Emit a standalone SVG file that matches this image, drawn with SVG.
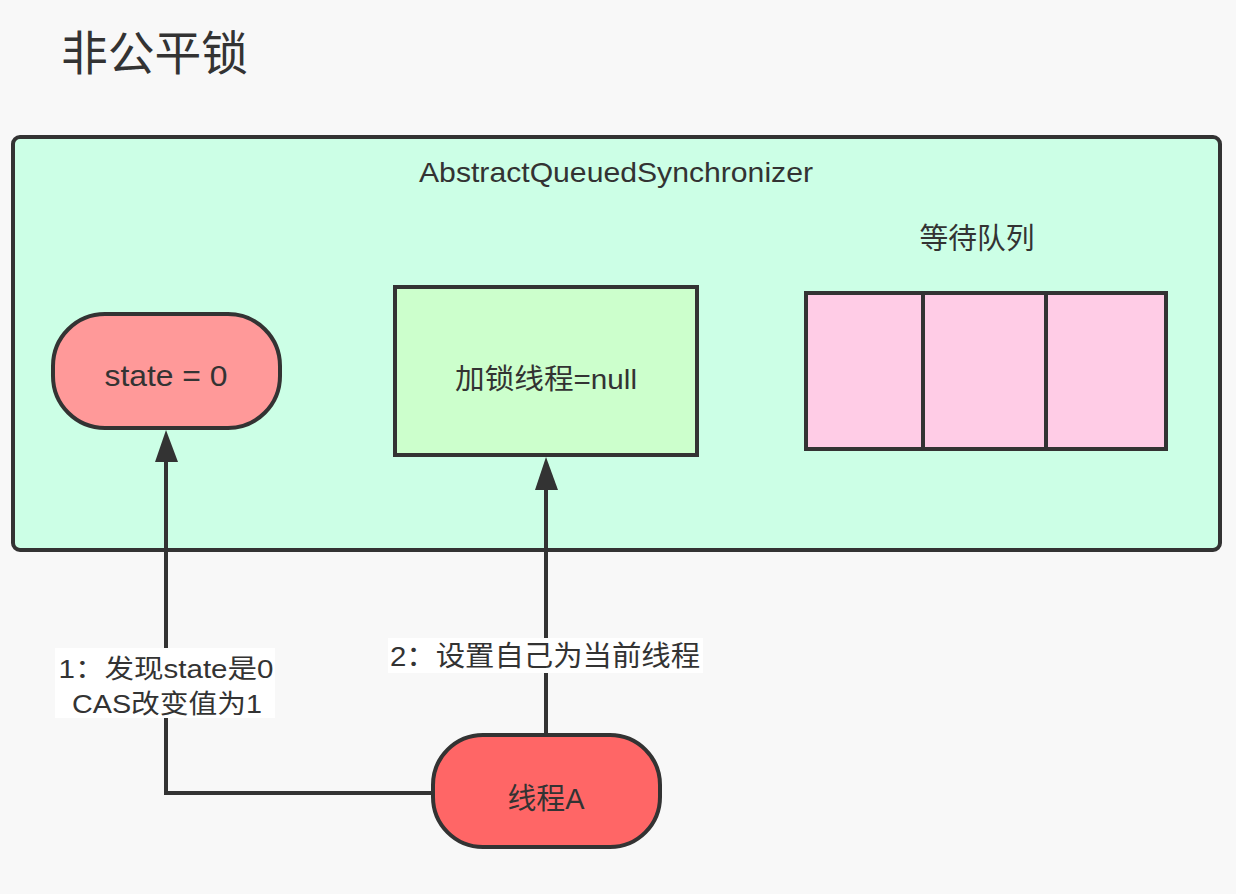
<svg xmlns="http://www.w3.org/2000/svg" width="1236" height="894" viewBox="0 0 1236 894">
<style>
.t{font-family:"Liberation Sans","Noto Sans CJK SC",sans-serif;fill:#333;text-anchor:middle}
.s{stroke:#333;stroke-width:4}
.c{fill:none;stroke:#333;stroke-width:4}
</style>
<rect width="1236" height="894" fill="#f8f8f8"/>
<text id="title" x="61" y="70" class="t" style="text-anchor:start;font-size:47px" textLength="187" lengthAdjust="spacingAndGlyphs">非公平锁</text>
<g id="aqs">
<rect x="13" y="137" width="1207" height="413" rx="7" fill="#ccffe6" class="s"/>
<text x="616" y="182" class="t" style="font-size:28px" textLength="394" lengthAdjust="spacingAndGlyphs">AbstractQueuedSynchronizer</text>
</g>
<g id="state">
<rect x="53" y="314" width="227" height="114" rx="52" fill="#ff9999" class="s"/>
<text x="166" y="386" class="t" style="font-size:29px" textLength="123" lengthAdjust="spacingAndGlyphs">state = 0</text>
</g>
<g id="lockThread">
<rect x="395" y="287" width="302" height="168" fill="#ccffcc" class="s"/>
<text x="546" y="389" class="t" style="font-size:28px" textLength="182" lengthAdjust="spacingAndGlyphs">加锁线程=null</text>
</g>
<g id="queue">
<text x="977" y="249" class="t" style="font-size:29px" textLength="115" lengthAdjust="spacingAndGlyphs">等待队列</text>
<rect x="806" y="293" width="360" height="156" fill="#ffcce6" class="s"/>
<line x1="923" y1="293" x2="923" y2="449" class="s"/>
<line x1="1046" y1="293" x2="1046" y2="449" class="s"/>
</g>
<g id="threadA">
<rect x="433" y="735" width="227" height="112" rx="50" fill="#ff6666" class="s"/>
<text x="546" y="809" class="t" style="font-size:29px" textLength="77" lengthAdjust="spacingAndGlyphs">线程A</text>
</g>
<g id="connectors">
<path d="M433 793 H166 V462" class="c"/>
<path d="M155 462 L166 430 L178 462 Z" fill="#333"/>
<path d="M546 735 V490" class="c"/>
<path d="M535 490 L546 457 L558 490 Z" fill="#333"/>
<rect x="55" y="648" width="220" height="70" fill="#fff"/>
<text x="166" y="678" class="t" style="font-size:26px" textLength="215" lengthAdjust="spacingAndGlyphs">1：发现state是0</text>
<text x="167" y="713" class="t" style="font-size:26px" textLength="190" lengthAdjust="spacingAndGlyphs">CAS改变值为1</text>
<rect x="388" y="638" width="315" height="35" fill="#fff"/>
<text x="545" y="666" class="t" style="font-size:28px" textLength="310" lengthAdjust="spacingAndGlyphs">2：设置自己为当前线程</text>
</g>
</svg>
